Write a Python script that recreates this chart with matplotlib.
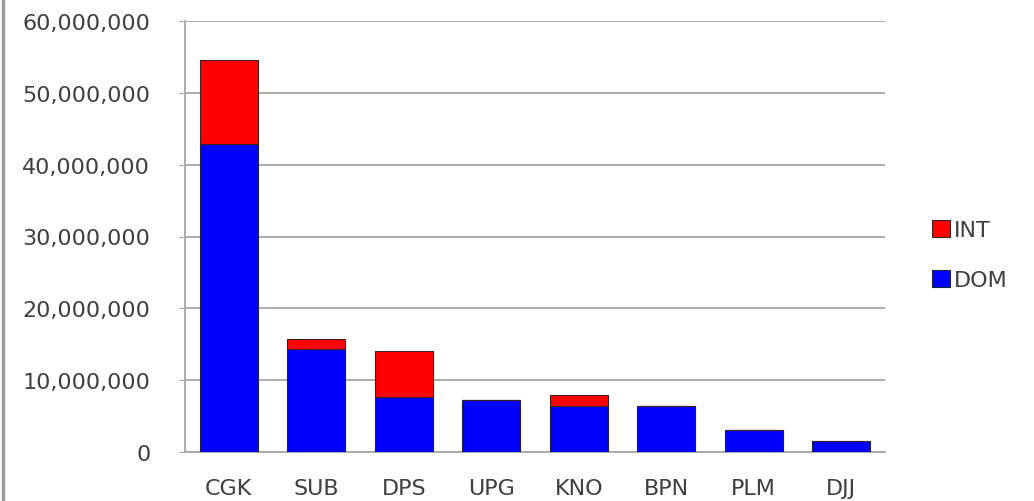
import numpy as np
import matplotlib.pyplot as plt
from matplotlib.ticker import FuncFormatter, MultipleLocator
from matplotlib.lines import Line2D

# airport passenger data
airports = ['CGK', 'SUB', 'DPS', 'UPG', 'KNO', 'BPN', 'PLM', 'DJJ']
dom = [42.9e6, 14.3e6, 7.7e6, 7.2e6, 6.4e6, 6.4e6, 3.1e6, 1.5e6]
intl = [11.7e6, 1.4e6, 6.4e6, 0.0, 1.5e6, 0.0, 0.0, 0.0]

fig = plt.figure(figsize=(10.34, 5.02), dpi=100, facecolor='white')
ax = fig.add_axes([185/1034, 49/502, 700/1034, 431/502])

x = np.arange(len(airports))
w = 0.66
b_dom = ax.bar(x, dom, w, color='#0000ff', edgecolor='#202040', linewidth=0.8,
               label='DOM', zorder=3)
b_int = ax.bar(x, intl, w, bottom=dom, color='#ff0000', edgecolor='#402020',
               linewidth=0.8, label='INT', zorder=3)

ax.set_xlim(-0.5, len(airports) - 0.5)
ax.set_ylim(0, 60e6)
ax.yaxis.set_major_locator(MultipleLocator(10e6))
ax.yaxis.set_major_formatter(FuncFormatter(lambda v, p: f'{int(v):,}'))
ax.grid(axis='y', color='#a6a6a6', linewidth=1.3, zorder=0)
ax.set_axisbelow(True)

ax.set_xticks(x)
ax.set_xticklabels(airports)
for s in ['top', 'right']:
    ax.spines[s].set_visible(False)
ax.spines['left'].set_color('#a6a6a6')
ax.spines['left'].set_linewidth(1.3)
ax.spines['bottom'].set_color('#a6a6a6')
ax.spines['bottom'].set_linewidth(1.3)

ax.tick_params(axis='y', length=4, color='#a6a6a6', pad=21,
               labelsize=16, labelcolor='#404040')
ax.tick_params(axis='x', length=0, pad=19, labelsize=16, labelcolor='#404040')

leg = ax.legend(handles=[b_int, b_dom], loc='center left',
                bbox_to_anchor=(1.067, 0.457), frameon=False, fontsize=16,
                borderpad=0, borderaxespad=0,
                handlelength=0.8, handleheight=0.8, handletextpad=0.2,
                labelspacing=1.35)
for t in leg.get_texts():
    t.set_color('#404040')

# grey border down the left edge of the picture
fig.add_artist(Line2D([3/1034, 3/1034], [0, 1], color='#9a9a9a', linewidth=2.5,
                      transform=fig.transFigure))

fig.savefig('out.png', dpi=100, facecolor='white')
